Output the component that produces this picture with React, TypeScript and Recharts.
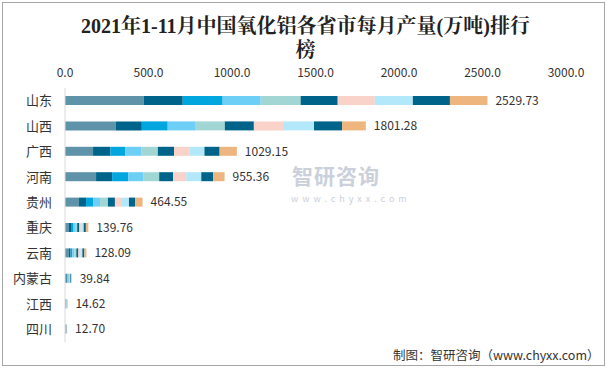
import React from 'react';
import { BarChart, Bar, XAxis, YAxis, LabelList } from 'recharts';

const provinces = ['山东', '山西', '广西', '河南', '贵州', '重庆', '云南', '内蒙古', '江西', '四川'];
const totals = [2529.73, 1801.28, 1029.15, 955.36, 464.55, 139.76, 128.09, 39.84, 14.62, 12.7];
const xTicks = [0, 500, 1000, 1500, 2000, 2500, 3000];

// monthly output per province (万吨)
const m1to2 = [472, 305, 168, 186, 84, 24, 22, 7, 2.6, 2.3];
const m3 = [233, 155, 103, 96, 42, 12, 11, 4, 1.3, 1.1];
const m4 = [239, 155, 91, 96, 42, 12, 11, 4, 1.3, 1.1];
const m5 = [228, 168, 97, 90, 42, 12, 12, 4, 1.3, 1.1];
const m6 = [239, 174, 97, 96, 47, 13, 12, 4, 1.3, 1.2];
const m7 = [222, 174, 97, 84, 42, 13, 12, 3, 1.3, 1.2];
const m8 = [222, 180, 91, 78, 42, 13, 12, 3, 1.3, 1.2];
const m9 = [228, 180, 91, 90, 42, 13, 12, 3, 1.3, 1.1];
const m10 = [222, 168, 91, 72, 36, 13, 12, 4, 1.3, 1.1];
const m11 = [224.73, 142.28, 103.15, 67.36, 45.55, 14.76, 12.09, 3.84, 1.62, 1.3];

const seriesNames = ['1-2月', '3月', '4月', '5月', '6月', '7月', '8月', '9月', '10月', '11月'];
const seriesValues = [m1to2, m3, m4, m5, m6, m7, m8, m9, m10, m11];
const colors = ['#5f93aa', '#00638a', '#00a6dd', '#6dcff6', '#a1d6d4', '#00638a', '#f9d2c9', '#b3e8fb', '#00638a', '#eeb67e'];

const data = provinces.map((name, i) => {
  const row: Record<string, any> = { name, total: totals[i] };
  seriesValues.forEach((arr, k) => {
    row['s' + k] = arr[i];
  });
  return row;
});

export default function App() {
  return (
    <div style={{ position: 'absolute', left: 0, top: 0, width: 611, height: 369, background: '#fff', fontFamily: "'Noto Sans CJK SC', 'Noto Sans', sans-serif" }}>
      <div style={{ position: 'absolute', left: 2, top: 2, width: 601, height: 362, border: '1px solid #a6a6a6' }} />
      <div
        style={{
          position: 'absolute', left: 0, top: 14, width: 611, textAlign: 'center',
          fontFamily: "'Liberation Serif', 'Noto Serif CJK SC', serif", fontWeight: 'bold',
          fontSize: 20, lineHeight: '24px', color: '#222',
        }}
      >
        2021年1-11月中国氧化铝各省市每月产量(万吨)排行<br />榜
      </div>
      <div style={{ position: 'absolute', left: 292, top: 164, color: '#cbd0db', fontSize: 21, lineHeight: '22px', fontWeight: 'bold', letterSpacing: 1 }}>
        智研咨询
      </div>
      <div style={{ position: 'absolute', left: 291, top: 194, color: '#cbd0db', fontSize: 9, lineHeight: '10px', letterSpacing: 4 }}>
        www.chyxx.com
      </div>
      <div style={{ position: 'absolute', left: 0, top: 0 }}>
        <BarChart
          width={611}
          height={369}
          data={data}
          layout="vertical"
          margin={{ top: 68, right: 45, bottom: 27, left: 5 }}
          barSize={9}
        >
          <XAxis
            type="number"
            orientation="top"
            domain={[0, 3000]}
            ticks={xTicks}
            tickFormatter={(v: number) => v.toFixed(1)}
            axisLine={false}
            tickLine={false}
            tickMargin={5}
            height={20}
            tick={{ fontSize: 12, fill: '#333' }}
          />
          <YAxis
            type="category"
            dataKey="name"
            width={60}
            axisLine={{ stroke: '#d9d9d9' }}
            tickLine={false}
            tickSize={0}
            tickMargin={13}
            tick={{ fontSize: 13, fill: '#333' }}
          />
          {seriesNames.map((n, k) => (
            <Bar key={n} dataKey={'s' + k} name={n} stackId="a" fill={colors[k]} isAnimationActive={false}>
              {k === seriesNames.length - 1 && (
                <LabelList
                  dataKey="total"
                  position="right"
                  offset={8}
                  formatter={(v: any) => Number(v).toFixed(2)}
                  style={{ fontSize: 12, fill: '#333' }}
                />
              )}
            </Bar>
          ))}
        </BarChart>
      </div>
      <div style={{ position: 'absolute', left: 393, top: 345, fontSize: 12.5, color: '#333', whiteSpace: 'nowrap' }}>
        制图：智研咨询（www.chyxx.com）
      </div>
    </div>
  );
}
